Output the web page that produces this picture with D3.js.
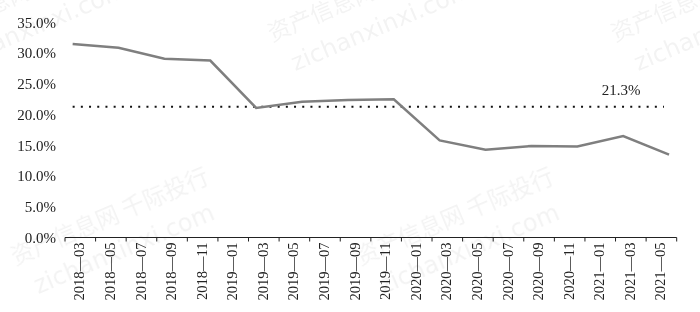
<!DOCTYPE html>
<html>
<head>
<meta charset="utf-8">
<script src="https://cdn.jsdelivr.net/npm/d3@7"></script>
<style>
  body { margin: 0; background: #fff; }
  svg { display: block; }
</style>
</head>
<body>
<script>
// quarterly ratio
var dates = ["2018-03","2018-06","2018-09","2018-12","2019-03","2019-06","2019-09",
             "2019-12","2020-03","2020-06","2020-09","2020-12","2021-03","2021-06"];
var values = [31.5, 30.9, 29.1, 28.8, 21.1, 22.1, 22.4, 22.5, 15.8, 14.3, 14.9, 14.8, 16.5, 13.5];
var avgValue = 21.3;
var avgLabel = "21.3%";
var yTicks = [0, 5, 10, 15, 20, 25, 30, 35];

// month axis runs 2018-03 .. 2021-06, labelled every other month
var months = [];
for (var yr = 2018; yr <= 2021; yr++) {
  for (var m = 1; m <= 12; m++) {
    var k = yr + "-" + (m < 10 ? "0" + m : m);
    if (k >= "2018-03" && k <= "2021-06") months.push(k);
  }
}
var labelMonths = months.filter(function(d, i) { return i % 2 == 0; });

var width = 700, height = 312;
var mLeft = 65, mRight = 676.7, mTop = 22.5, mBottom = 237.5;

var svg = d3.select("body").append("svg").attr("width", width).attr("height", height);

// faint watermark
var wm = svg.append("g").attr("fill", "#000").attr("opacity", 0.05);
[[15, 265], [360, 265], [-73, 42], [272, 42], [615, 42]].forEach(function(p) {
  var g = wm.append("g").attr("transform", "translate(" + p[0] + "," + p[1] + ") rotate(-23)");
  g.append("text").attr("font-family", "Noto Sans CJK SC").attr("font-size", 23)
    .text("资产信息网 千际投行");
  g.append("text").attr("x", 10).attr("y", 36).attr("font-family", "DejaVu Sans").attr("font-size", 24)
    .text("zichanxinxi.com");
});

var x = d3.scaleBand().domain(months).range([mLeft, mRight]);
var xl = d3.scaleBand().domain(labelMonths).range([mLeft, mRight]);
var yScale = d3.scaleLinear().domain([0, 35]).range([mBottom, mTop]);

// y labels
svg.append("g").selectAll("text").data(yTicks).enter().append("text")
  .attr("x", 56).attr("y", function(d) { return yScale(d); }).attr("dy", "0.35em")
  .attr("text-anchor", "end")
  .style("font", "15px 'Liberation Serif'").attr("fill", "#222")
  .text(function(d) { return d.toFixed(1) + "%"; });

// x axis
var xa = svg.append("g");
xa.append("line").attr("x1", mLeft).attr("x2", mRight).attr("y1", mBottom).attr("y2", mBottom)
  .attr("stroke", "#222").attr("stroke-width", 1);
var bounds = labelMonths.map(function(d) { return xl(d); }).concat([mRight]);
xa.selectAll(".tk").data(bounds).enter().append("line").attr("class", "tk")
  .attr("x1", function(d) { return d; }).attr("x2", function(d) { return d; })
  .attr("y1", mBottom).attr("y2", mBottom + 4).attr("stroke", "#222");
xa.selectAll(".lb").data(labelMonths).enter().append("text").attr("class", "lb")
  .attr("transform", function(d) {
    return "translate(" + (xl(d) + xl.bandwidth() / 2 - 1) + "," + (mBottom + 5) + ") rotate(-90)";
  })
  .attr("dy", "0.35em").attr("text-anchor", "end")
  .style("font", "14.5px 'Liberation Serif'").attr("fill", "#222")
  .text(function(d) { return d.replace("-", "—"); });

// average dotted line
svg.append("line")
  .attr("x1", x("2018-03") + x.bandwidth() / 2).attr("x2", 664)
  .attr("y1", yScale(avgValue)).attr("y2", yScale(avgValue))
  .attr("stroke", "#111").attr("stroke-width", 2).attr("stroke-dasharray", "2,6.2");
svg.append("text").attr("x", 621).attr("y", yScale(avgValue) - 12)
  .attr("text-anchor", "middle")
  .style("font", "15px 'Liberation Serif'").attr("fill", "#222").text(avgLabel);

// the series
var line = d3.line()
  .x(function(d, i) { return x(dates[i]) + x.bandwidth() / 2; })
  .y(function(d) { return yScale(d); });
svg.append("path").datum(values).attr("d", line)
  .attr("fill", "none").attr("stroke", "#7f7f7f").attr("stroke-width", 2.5);
</script>
</body>
</html>
